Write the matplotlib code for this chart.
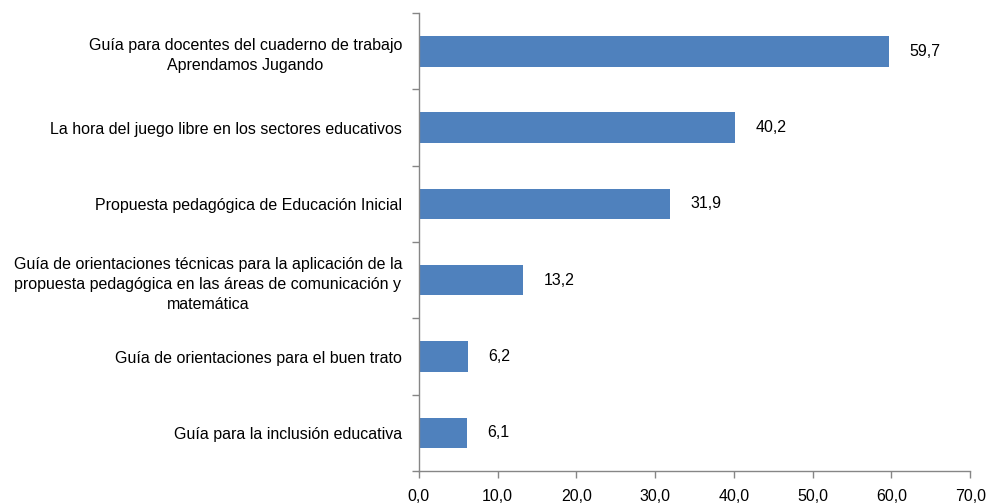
import numpy as np
import matplotlib
matplotlib.use('Agg')
import matplotlib.pyplot as plt

plt.rcParams['font.family'] = ['Liberation Sans', 'DejaVu Sans']

categorias = [
    'Guía para docentes del cuaderno de trabajo\nAprendamos Jugando',
    'La hora del juego libre en los sectores educativos',
    'Propuesta pedagógica de Educación Inicial',
    'Guía de orientaciones técnicas para la aplicación de la\npropuesta pedagógica en las áreas de comunicación y\nmatemática',
    'Guía de orientaciones para el buen trato',
    'Guía para la inclusión educativa',
]
valores = [59.7, 40.2, 31.9, 13.2, 6.2, 6.1]
xticks = [0, 10, 20, 30, 40, 50, 60, 70]

fs = 11.5

fig = plt.figure(figsize=(9.95, 5.03), dpi=100)
ax = fig.add_axes([0.421, 0.0636, 0.554, 0.9104])

pos = np.arange(len(categorias))
ax.barh(pos, valores, height=0.4, color='#4F81BD')
for p, v in zip(pos, valores):
    ax.text(v + 2.6, p, f'{v:.1f}'.replace('.', ','), va='center', ha='left',
            fontsize=fs, color='black')

ax.set_xlim(0, 70)
ax.set_ylim(len(categorias) - 0.5, -0.5)
ax.set_xticks(xticks)
ax.set_xticklabels([f'{t:.1f}'.replace('.', ',') for t in xticks], fontsize=fs)

# ticks on category boundaries, labels centered
ax.set_yticks(np.arange(len(categorias) + 1) - 0.5)
ax.set_yticklabels([])
ax.set_yticks(pos, minor=True)
ax.set_yticklabels(categorias, minor=True, fontsize=fs, ha='right',
                   multialignment='center', linespacing=1.45)
ax.tick_params(axis='y', which='minor', length=0, pad=12)
ax.tick_params(axis='y', which='major', length=5, width=1, color='#868686')
ax.tick_params(axis='x', length=5, width=1, color='#868686', pad=8)

for s in ['top', 'right']:
    ax.spines[s].set_visible(False)
for s in ['left', 'bottom']:
    ax.spines[s].set_color('#868686')
    ax.spines[s].set_linewidth(1)

fig.savefig('out.png', dpi=100)
